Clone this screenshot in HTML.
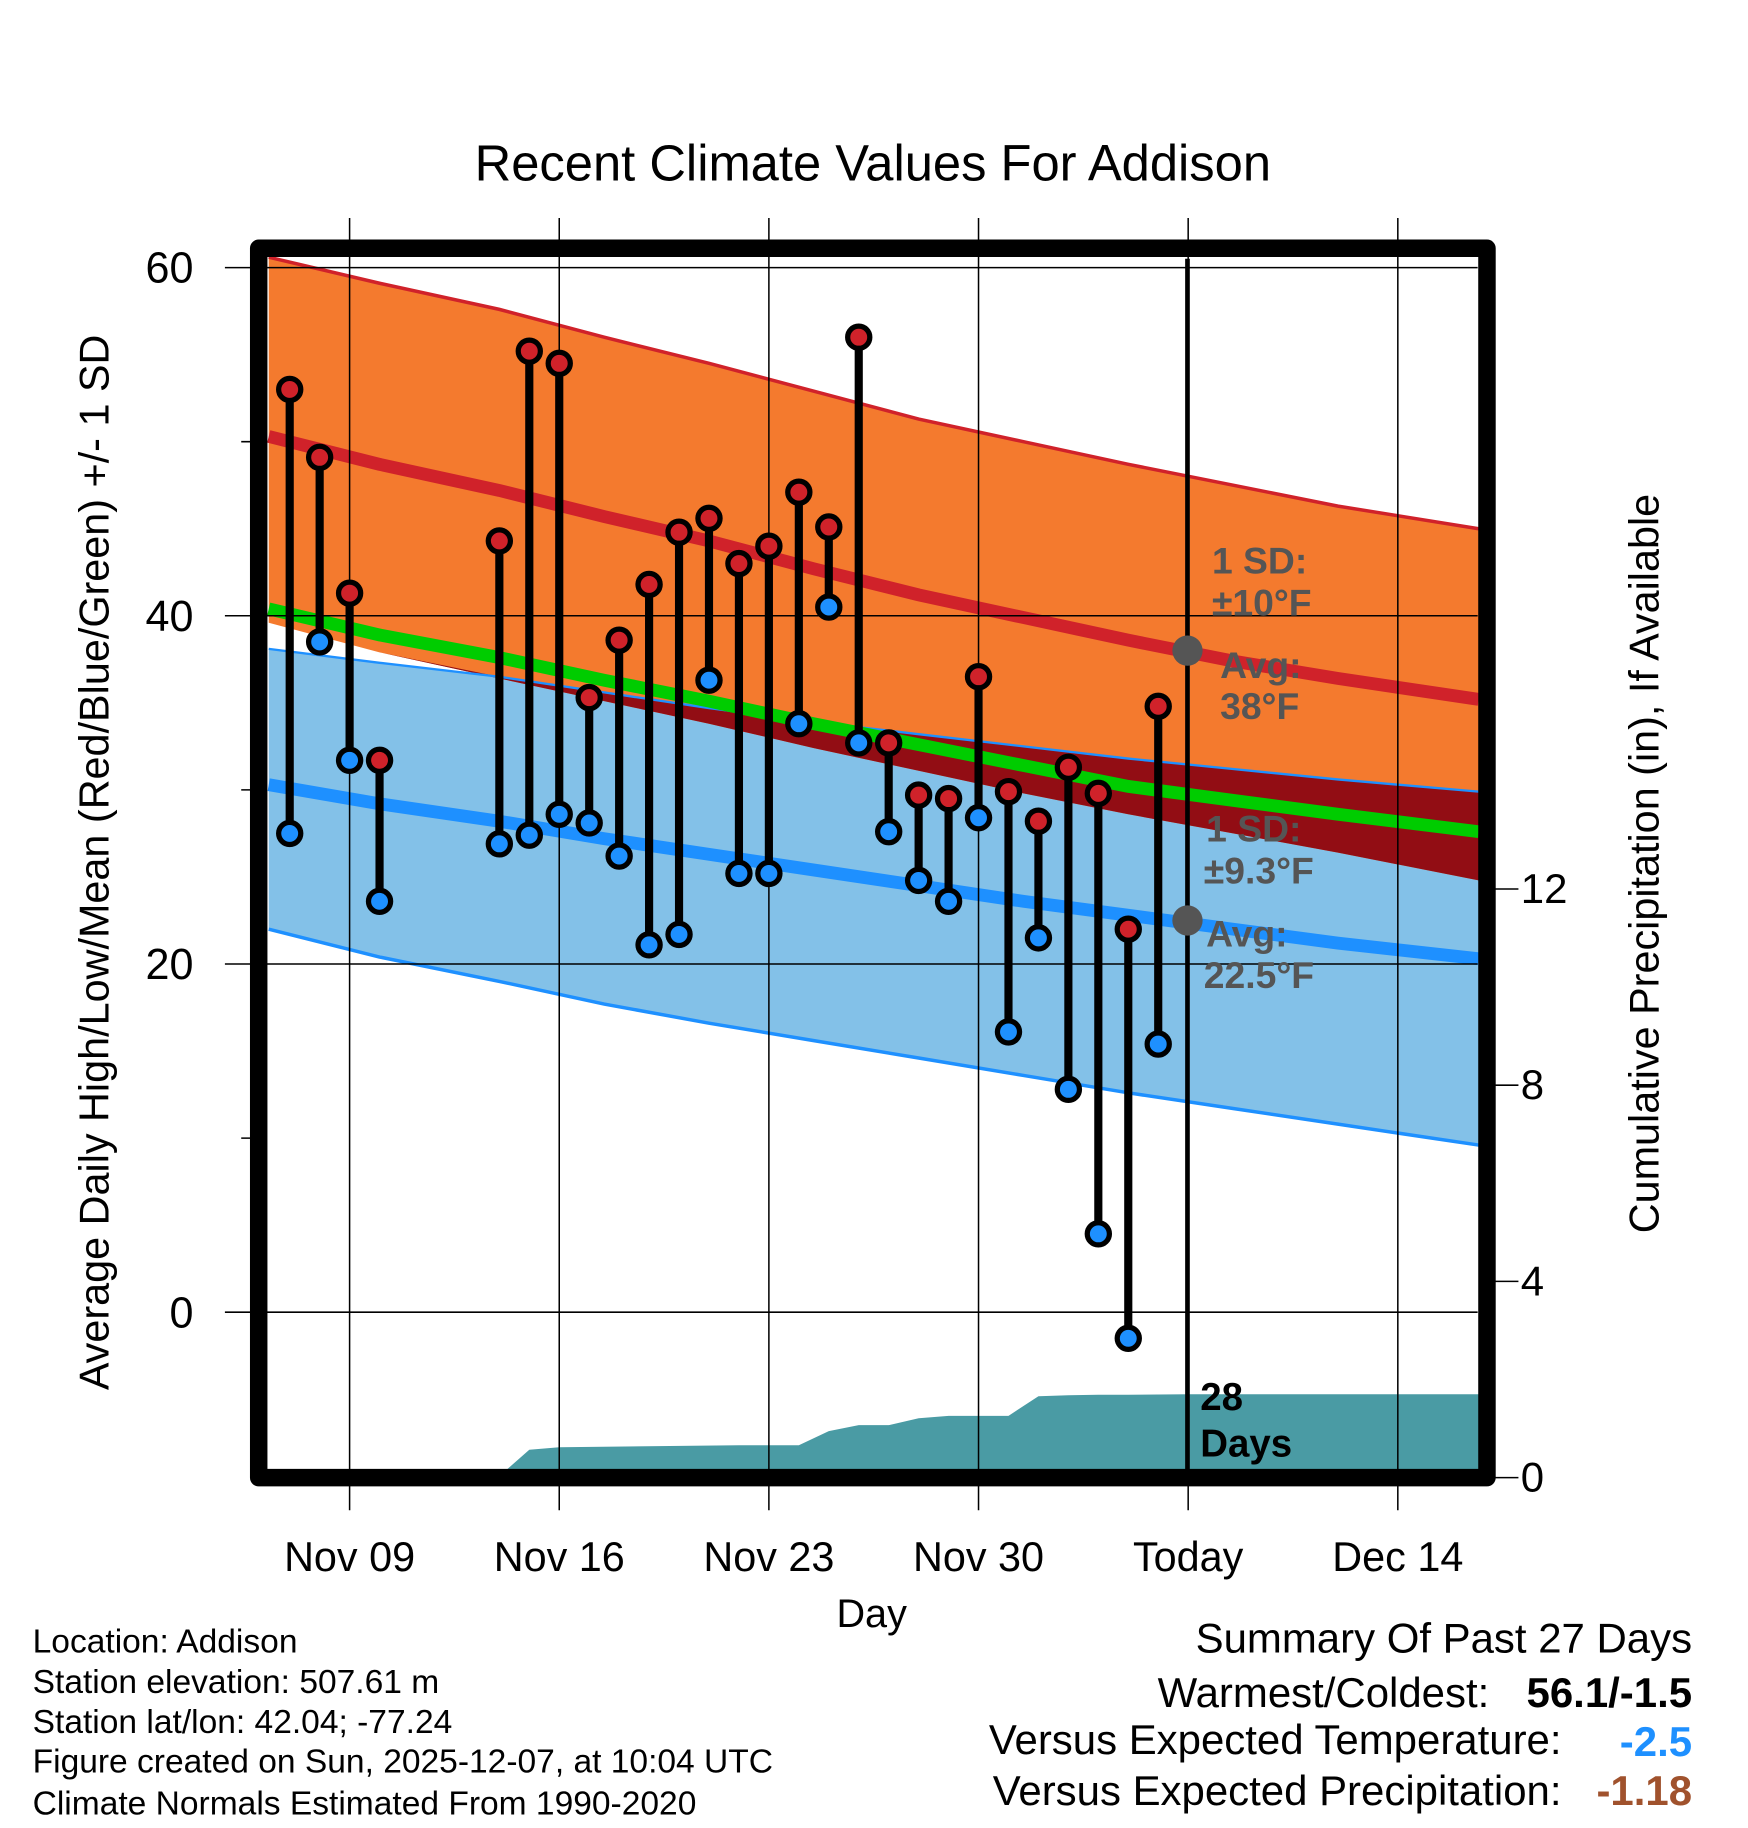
<!DOCTYPE html>
<html><head><meta charset="utf-8"><style>
html,body{margin:0;padding:0;background:#fff;}
svg{display:block;font-family:"Liberation Sans",sans-serif;}
</style></head><body>
<svg id="chart" width="1748" height="1828" viewBox="0 0 1500 1568.6" xmlns="http://www.w3.org/2000/svg"></svg>
<script>
// ---- data ----
const normDays = [-2.7, 1, 5, 8.5, 12, 15.5, 19, 22.5, 26, 29.5, 33, 37.7];
const highPlus = [60.6, 59.1, 57.6, 56.0, 54.5, 52.9, 51.3, 50.0, 48.7, 47.5, 46.3, 45.0];
const highMean = [50.3, 48.7, 47.2, 45.7, 44.3, 42.7, 41.2, 39.9, 38.6, 37.4, 36.4, 35.2];
const highMinus = [39.6, 37.9, 36.4, 35.1, 33.8, 32.4, 31.1, 29.8, 28.6, 27.5, 26.4, 24.8];
const avgMean = [40.4, 38.9, 37.6, 36.3, 35.1, 33.8, 32.6, 31.4, 30.2, 29.4, 28.6, 27.6];
const lowPlus = [38.1, 37.3, 36.5, 35.6, 34.7, 33.9, 33.2, 32.5, 31.8, 31.2, 30.6, 29.9];
const lowMean = [30.3, 29.2, 28.2, 27.2, 26.3, 25.4, 24.5, 23.6, 22.8, 22.0, 21.2, 20.3];
const lowMinus = [22.0, 20.4, 19.0, 17.7, 16.6, 15.6, 14.6, 13.6, 12.6, 11.7, 10.8, 9.6];
const obsDays = [-2,-1,0,1,5,6,7,8,9,10,11,12,13,14,15,16,17,18,19,20,21,22,23,24,25,26,27];
const obsHigh = [53.0,49.1,41.3,31.7,44.3,55.2,54.5,35.3,38.6,41.8,44.8,45.6,43.0,44.0,47.1,45.1,56.0,32.7,29.7,29.5,36.5,29.9,28.2,31.3,29.8,22.0,34.8];
const obsLow = [27.5,38.5,31.7,23.6,26.9,27.4,28.6,28.1,26.2,21.1,21.7,36.3,25.2,25.2,33.8,40.5,32.7,27.6,24.8,23.6,28.4,16.1,21.5,12.8,4.5,-1.5,15.4];
const precipDays = [-2.7,0,1,4,5,6,7,13,15,16,17,18,19,20,22,23,24,25,26,28,37.7];
const precipVals = [0,0,0.02,0.03,0.03,0.57,0.62,0.66,0.66,0.95,1.07,1.07,1.21,1.26,1.26,1.66,1.68,1.69,1.69,1.7,1.7];
const xTickDays = [0,7,14,21,28,35];
const xTickLabels = ["Nov 09","Nov 16","Nov 23","Nov 30","Today","Dec 14"];
const yTicks = [0,20,40,60];
const yMinor = [10,30,50];
const pTicks = [0,4,8,12];
// ---- axes ----
const X = d => 300 + d*25.7;
const Y = v => 1126 - 14.94*v;
const P = p => 1268 - 42.1*p;
const NS = "http://www.w3.org/2000/svg";
const svg = document.getElementById('chart');
function el(tag, attrs, parent){const e=document.createElementNS(NS,tag);for(const k in attrs)e.setAttribute(k,attrs[k]);(parent||svg).appendChild(e);return e;}
function txt(s, attrs){const e=el('text',attrs);e.textContent=s;return e;}
function band(top, bot){let pts=normDays.map((d,i)=>X(d)+','+Y(top[i]));for(let i=normDays.length-1;i>=0;i--)pts.push(X(normDays[i])+','+Y(bot[i]));return pts.join(' ');}
function line(arr){return normDays.map((d,i)=>X(d)+','+Y(arr[i])).join(' ');}

let e;
e=txt("Recent Climate Values For Addison",{x:749,y:155,'font-size':43.5,'text-anchor':'middle'});


e=el('polygon',{points:band(lowPlus,lowMinus),fill:'#83c1e8'});

e=el('polygon',{points:band(highPlus,highMinus),fill:'#f47a2e'});

const ovTop = lowPlus.map((v,i)=>Math.max(v,highMinus[i]));
e=el('polygon',{points:band(ovTop,highMinus),fill:'#920d14'});

{let pts=precipDays.map((d,i)=>X(d)+','+P(precipVals[i]));pts.push(X(37.7)+','+P(0),X(-2.7)+','+P(0));
e=el('polygon',{points:pts.join(' '),fill:'#4a9ba4'});
}
e=el('polyline',{points:line(highPlus),fill:'none',stroke:'#d0222a','stroke-width':3});

e=el('polyline',{points:line(lowPlus),fill:'none',stroke:'#1e90ff','stroke-width':2});

e=el('polyline',{points:line(lowMinus),fill:'none',stroke:'#1e90ff','stroke-width':3});

e=el('polyline',{points:line(highMean),fill:'none',stroke:'#d0222a','stroke-width':11});

e=el('polyline',{points:line(avgMean),fill:'none',stroke:'#00cc00','stroke-width':11});

e=el('polyline',{points:line(lowMean),fill:'none',stroke:'#1e90ff','stroke-width':11});


xTickDays.forEach((d,i)=>{
 e=el('line',{x1:X(d),x2:X(d),y1:187,y2:1296,stroke:'#000','stroke-width':1.3});
 
 e=txt(xTickLabels[i],{x:X(d),y:1348,'font-size':35.5,'text-anchor':'middle'});
 
});
yTicks.forEach(v=>{
 e=el('line',{x1:193,x2:1268,y1:Y(v),y2:Y(v),stroke:'#000','stroke-width':1.3});
 
 e=txt(String(v),{x:166,y:Y(v)+13,'font-size':37,'text-anchor':'end'});
 
});
yMinor.forEach(v=>{
 e=el('line',{x1:207,x2:222,y1:Y(v),y2:Y(v),stroke:'#000','stroke-width':1.3});
 
});
pTicks.forEach(p=>{
 e=el('line',{x1:1276,x2:1303,y1:P(p),y2:P(p),stroke:'#000','stroke-width':1.3});
 
 e=txt(String(p),{x:1305,y:P(p)+12,'font-size':36});
 
});

e=el('line',{x1:1019,x2:1019,y1:222,y2:1262,stroke:'#000','stroke-width':4});


obsDays.forEach((d,i)=>{
 e=el('line',{x1:X(d),x2:X(d),y1:Y(obsHigh[i]),y2:Y(obsLow[i]),stroke:'#000','stroke-width':7});
 
 e=el('circle',{cx:X(d),cy:Y(obsHigh[i]),r:9.5,fill:'#d0222a',stroke:'#000','stroke-width':4.5});
 
 e=el('circle',{cx:X(d),cy:Y(obsLow[i]),r:9.5,fill:'#1e90ff',stroke:'#000','stroke-width':4.5});
 
});

e=el('circle',{cx:1019,cy:Y(38),r:13,fill:'#555'});

e=el('circle',{cx:1019,cy:Y(22.5),r:13,fill:'#555'});

const ann=[["1 SD:",1040,492],["\u00B110\u00B0F",1040,528],["Avg:",1047,582],["38\u00B0F",1047,617],["1 SD:",1035,722],["\u00B19.3\u00B0F",1033,758],["Avg:",1035,812],["22.5\u00B0F",1033,848]];
ann.forEach(a=>{e=txt(a[0],{x:a[1],y:a[2],'font-size':32,'font-weight':'bold',fill:'#555'});
 });
e=txt("28",{x:1030,y:1210,'font-size':33,'font-weight':'bold'});

e=txt("Days",{x:1030,y:1250,'font-size':33,'font-weight':'bold'});


e=el('rect',{x:222,y:213,width:1054,height:1055,fill:'none',stroke:'#000','stroke-width':15,'stroke-linejoin':'round'});


e=txt("Average Daily High/Low/Mean (Red/Blue/Green) +/- 1 SD",{x:0,y:0,'font-size':35.5,'text-anchor':'middle',transform:'translate(93,740) rotate(-90)'});

e=txt("Cumulative Precipitation (in), If Available",{x:0,y:0,'font-size':35.5,'text-anchor':'middle',transform:'translate(1423,741) rotate(-90)'});

e=txt("Day",{x:748,y:1396,'font-size':34,'text-anchor':'middle'});


["Location: Addison","Station elevation: 507.61 m","Station lat/lon: 42.04; -77.24","Figure created on Sun, 2025-12-07, at 10:04 UTC","Climate Normals Estimated From 1990-2020"].forEach((s,i)=>{
 e=txt(s,{x:28,y:[1418,1453,1487,1521,1557][i],'font-size':28.8});
 
});
e=txt("Summary Of Past 27 Days",{x:1452,y:1418,'font-size':36,'text-anchor':'end'});

e=txt("Warmest/Coldest:",{x:1278,y:1465,'font-size':36,'text-anchor':'end'});

e=txt("56.1/-1.5",{x:1452,y:1465,'font-size':36,'text-anchor':'end','font-weight':'bold'});

e=txt("Versus Expected Temperature:",{x:1340,y:1505,'font-size':36,'text-anchor':'end'});

e=txt("-2.5",{x:1452,y:1507,'font-size':36,'text-anchor':'end','font-weight':'bold',fill:'#1e90ff'});

e=txt("Versus Expected Precipitation:",{x:1340,y:1549,'font-size':36,'text-anchor':'end'});

e=txt("-1.18",{x:1452,y:1549,'font-size':36,'text-anchor':'end','font-weight':'bold',fill:'#a0522d'});

</script>
</body></html>
